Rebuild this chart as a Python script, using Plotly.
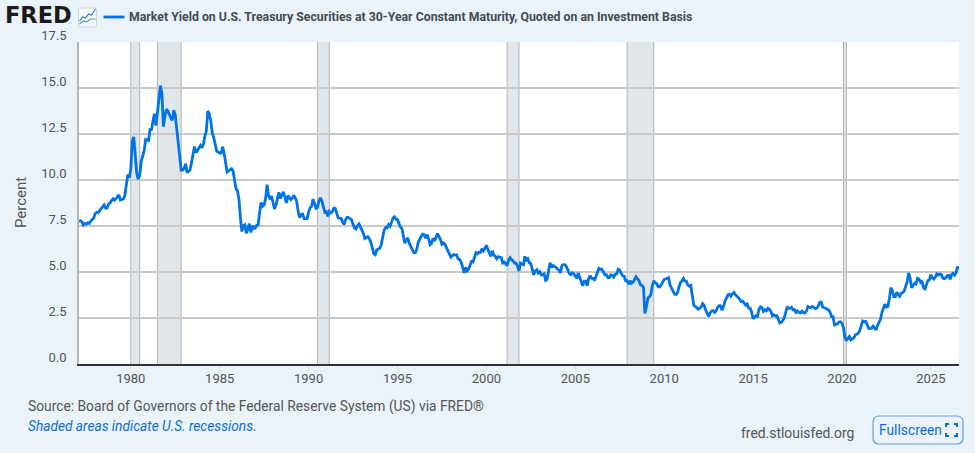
import pandas as pd
import plotly.graph_objects as go

# monthly yields, one list per stretch of years
y1977_1979 = [7.75, 7.78, 7.73, 7.55, 7.64, 7.60, 7.68, 7.64, 7.77, 7.85, 7.94,
              8.18, 8.25, 8.23, 8.34, 8.43, 8.50, 8.65, 8.47, 8.47, 8.69, 8.75, 8.88,
              8.98, 8.90, 9.02, 9.08, 9.19, 8.92, 8.93, 8.98, 9.17, 9.85, 10.30, 10.12]
y1980_1984 = [10.60, 12.13, 12.34, 11.40, 10.36, 10.05, 10.24, 11.00, 11.34, 11.59, 12.20, 12.15,
              12.14, 12.80, 12.69, 13.20, 13.60, 12.96, 13.59, 14.17, 15.13, 14.70, 12.90, 13.45,
              13.85, 13.75, 13.53, 13.37, 13.24, 13.80, 13.55, 12.77, 12.07, 11.17, 10.54, 10.54,
              10.63, 10.88, 10.40, 10.48, 10.53, 10.93, 11.50, 11.82, 11.50, 11.58, 11.75, 11.88,
              11.75, 11.95, 12.38, 12.65, 13.75, 13.60, 13.21, 12.54, 12.29, 11.98, 11.56, 11.52]
y1985_1989 = [11.45, 11.47, 11.81, 11.47, 11.05, 10.44, 10.50, 10.56, 10.61, 10.50, 10.06, 9.54,
              9.40, 8.93, 7.96, 7.20, 7.52, 7.57, 7.10, 7.40, 7.62, 7.15, 7.52, 7.37,
              7.39, 7.54, 7.55, 8.25, 8.78, 8.57, 8.64, 8.97, 9.75, 9.15, 8.95, 9.12,
              8.83, 8.43, 8.63, 8.95, 9.33, 9.00, 9.14, 9.36, 9.06, 8.75, 9.15, 9.01,
              8.93, 9.01, 9.17, 9.03, 8.83, 8.27, 7.95, 8.12, 8.15, 7.90, 7.90, 7.90]
y1990_1994 = [8.26, 8.50, 8.56, 8.95, 8.73, 8.46, 8.50, 8.86, 9.03, 8.86, 8.54, 8.24,
              8.27, 8.03, 8.29, 8.21, 8.27, 8.47, 8.45, 8.14, 7.95, 7.93, 7.92, 7.70,
              7.58, 7.85, 7.97, 7.96, 7.89, 7.84, 7.60, 7.39, 7.34, 7.53, 7.61, 7.44,
              7.34, 7.09, 6.82, 6.85, 6.92, 6.81, 6.63, 6.32, 6.00, 5.94, 6.21, 6.25,
              6.29, 6.49, 6.91, 7.27, 7.41, 7.40, 7.58, 7.49, 7.71, 7.94, 8.00, 7.87]
y1995_1999 = [7.85, 7.61, 7.45, 7.36, 6.95, 6.57, 6.72, 6.86, 6.55, 6.37, 6.26, 6.06,
              6.05, 6.24, 6.60, 6.79, 6.93, 7.06, 7.03, 6.84, 7.03, 6.81, 6.48, 6.55,
              6.83, 6.69, 6.93, 7.09, 6.94, 6.77, 6.51, 6.58, 6.50, 6.33, 6.11, 5.99,
              5.81, 5.89, 5.95, 5.92, 5.93, 5.70, 5.68, 5.54, 5.20, 4.95, 5.25, 5.06,
              5.16, 5.37, 5.58, 5.55, 5.81, 6.04, 5.98, 6.07, 6.07, 6.26, 6.15, 6.35]
y2000_2004 = [6.45, 6.23, 6.05, 5.85, 6.15, 5.93, 5.85, 5.72, 5.83, 5.80, 5.78, 5.49,
              5.54, 5.45, 5.34, 5.65, 5.78, 5.67, 5.61, 5.48, 5.48, 5.32, 5.05, 5.48,
              5.45, 5.40, 5.85, 5.65, 5.72, 5.50, 5.45, 5.15, 4.85, 5.05, 5.12, 4.95,
              5.02, 4.85, 4.85, 4.90, 4.55, 4.60, 5.05, 5.50, 5.25, 5.35, 5.30, 5.25,
              5.15, 5.10, 4.95, 5.35, 5.40, 5.40, 5.30, 5.10, 4.90, 4.85, 4.95, 4.90]
y2005_2009 = [4.75, 4.65, 4.95, 4.70, 4.55, 4.25, 4.50, 4.50, 4.25, 4.65, 4.80, 4.65,
              4.65, 4.55, 4.75, 5.05, 5.20, 5.15, 5.15, 5.00, 4.85, 4.85, 4.70, 4.70,
              4.85, 4.82, 4.72, 4.87, 4.90, 5.15, 5.11, 4.93, 4.79, 4.77, 4.52, 4.53,
              4.33, 4.52, 4.39, 4.44, 4.60, 4.74, 4.62, 4.53, 4.30, 4.27, 4.17, 2.75,
              3.13, 3.59, 3.64, 3.76, 4.23, 4.52, 4.41, 4.37, 4.19, 4.19, 4.31, 4.49]
y2010_2014 = [4.60, 4.62, 4.64, 4.69, 4.29, 4.13, 3.99, 3.80, 3.77, 3.87, 4.19, 4.42,
              4.52, 4.65, 4.51, 4.50, 4.29, 4.23, 4.27, 3.65, 3.18, 3.13, 3.02, 2.98,
              3.03, 3.11, 3.28, 3.18, 2.93, 2.70, 2.59, 2.77, 2.88, 2.90, 2.80, 2.88,
              3.08, 3.17, 3.16, 2.93, 3.11, 3.40, 3.61, 3.76, 3.79, 3.68, 3.80, 3.89,
              3.77, 3.66, 3.62, 3.52, 3.39, 3.42, 3.33, 3.20, 3.26, 3.04, 3.04, 2.83]
y2015_2019 = [2.46, 2.57, 2.63, 2.59, 2.96, 3.11, 3.07, 2.86, 2.95, 2.89, 3.03, 2.97,
              2.86, 2.62, 2.68, 2.62, 2.63, 2.45, 2.23, 2.26, 2.35, 2.50, 2.86, 3.11,
              3.02, 3.03, 3.08, 2.94, 2.96, 2.80, 2.88, 2.80, 2.78, 2.88, 2.80, 2.77,
              2.88, 3.13, 3.09, 3.07, 3.13, 3.05, 3.01, 3.04, 3.15, 3.34, 3.36, 3.10,
              3.04, 3.02, 2.98, 2.94, 2.82, 2.57, 2.57, 2.12, 2.16, 2.19, 2.28, 2.30]
y2020_2026 = [2.22, 1.97, 1.46, 1.27, 1.38, 1.49, 1.31, 1.36, 1.42, 1.57, 1.62, 1.67,
              1.82, 2.14, 2.34, 2.30, 2.32, 2.16, 1.94, 1.92, 1.94, 2.06, 1.94, 1.85,
              2.10, 2.25, 2.41, 2.81, 3.07, 3.25, 3.10, 3.13, 3.56, 4.15, 4.00, 3.66,
              3.66, 3.90, 3.77, 3.68, 3.86, 3.87, 3.96, 4.28, 4.47, 4.95, 4.66, 4.14,
              4.26, 4.38, 4.36, 4.66, 4.62, 4.44, 4.52, 4.15, 4.08, 4.38, 4.54, 4.58,
              4.85, 4.68, 4.62, 4.71, 4.90, 4.84, 4.89, 4.87, 4.68, 4.64, 4.68, 4.80,
              4.82, 4.60, 4.85, 4.93, 4.83, 4.95, 5.29, 5.15]

yields = (y1977_1979 + y1980_1984 + y1985_1989 + y1990_1994 + y1995_1999
          + y2000_2004 + y2005_2009 + y2010_2014 + y2015_2019 + y2020_2026)
dates = pd.date_range("1977-02-01", periods=len(yields), freq="MS")

recession_start = ["1980-01-01", "1981-07-01", "1990-07-01", "2001-03-01", "2007-12-01", "2020-02-01"]
recession_end = ["1980-07-01", "1982-11-01", "1991-03-01", "2001-11-01", "2009-06-01", "2020-04-01"]

y_ticks = [0, 2.5, 5, 7.5, 10, 12.5, 15, 17.5]
x_ticks = ["1980", "1985", "1990", "1995", "2000", "2005", "2010", "2015", "2020", "2025"]

title = "Market Yield on U.S. Treasury Securities at 30-Year Constant Maturity, Quoted on an Investment Basis"
source = "Source: Board of Governors of the Federal Reserve System (US) via FRED®"
note = "Shaded areas indicate U.S. recessions."

W, H = 975, 453
L, R, T, B = 78.5, 16, 42, 89
BG = "#eaf2fa"
BLUE = "#0073e6"
LINK = "#0b6fd3"
TEXT = "#555555"


# header and footer furniture is placed in page pixels
def px(x):
    return (x - L) / (W - L - R)


def py(y):
    return 1 - (y - T) / (H - T - B)


def label(x, y, text, size=14, color=TEXT, anchor="left", **kw):
    return dict(xref="paper", yref="paper", x=px(x), y=py(y), text=text, showarrow=False,
                xanchor=anchor, yanchor="middle", borderpad=0,
                font=dict(family="Roboto", size=size, color=color), **kw)


def path(points, color, width=1.5):
    d = "M " + " L ".join(f"{px(a):.5f} {py(b):.5f}" for a, b in points)
    return dict(type="path", xref="paper", yref="paper", path=d,
                line=dict(color=color, width=width), layer="above")


def rounded(x0, y0, x1, y1, r):
    p = lambda a, b: f"{px(a):.5f} {py(b):.5f}"
    return (f"M {p(x0 + r, y0)} L {p(x1 - r, y0)} Q {p(x1, y0)} {p(x1, y0 + r)} "
            f"L {p(x1, y1 - r)} Q {p(x1, y1)} {p(x1 - r, y1)} "
            f"L {p(x0 + r, y1)} Q {p(x0, y1)} {p(x0, y1 - r)} "
            f"L {p(x0, y0 + r)} Q {p(x0, y0)} {p(x0 + r, y0)} Z")


fig = go.Figure(go.Scatter(x=dates, y=yields, mode="lines", name=title,
                           line=dict(color=BLUE, width=2.8), showlegend=False))

shapes = []
for start, end in zip(recession_start, recession_end):
    shapes.append(dict(type="rect", xref="x", yref="paper", x0=start, x1=end, y0=0, y1=1,
                       fillcolor="#e1e6eb", line=dict(width=0), layer="below"))
    for edge in (start, end):
        shapes.append(dict(type="line", xref="x", yref="paper", x0=edge, x1=edge, y0=0, y1=1,
                           line=dict(color="#b0b3b6", width=1), layer="below"))

# legend key
shapes.append(dict(type="line", xref="paper", yref="paper", x0=px(103), x1=px(124), y0=py(17), y1=py(17),
                   line=dict(color=BLUE, width=2.8)))

# FRED graph icon
shapes.append(dict(type="path", xref="paper", yref="paper", path=rounded(78, 8, 96, 27, 2),
                   fillcolor="#f4f7fa", line=dict(color="#cfd4d8", width=1)))
shapes.append(path([(79, 21), (82, 17), (85, 18), (88, 14), (91, 15), (95, 9)], "#2f80d8", 1.2))
shapes.append(path([(79, 24), (83, 21), (86, 22), (90, 19), (95, 19)], "#4fae9c", 1.2))

# fullscreen button
shapes.append(dict(type="path", xref="paper", yref="paper", path=rounded(873, 416, 963, 444, 6),
                   fillcolor=BG, line=dict(color="#5c9fe3", width=1.2)))
for cx, cy, dx, dy in [(946, 424, 1, 1), (957, 424, -1, 1), (946, 436, 1, -1), (957, 436, -1, -1)]:
    shapes.append(path([(cx + 3 * dx, cy), (cx, cy), (cx, cy + 3 * dy)], LINK, 2))

annotations = [
    dict(xref="paper", yref="paper", x=px(3), y=py(15.5), text="<b>FRED</b>", showarrow=False,
         xanchor="left", yanchor="middle", borderpad=0,
         font=dict(family="DejaVu Sans", size=22.5, color="#1a1a1a")),
    label(128, 17, "<b>" + title + "</b>", size=12.3, color="#444b52"),
    label(26.5, 406, source, size=13.8),
    label(26.5, 426, "<i>" + note + "</i>", size=13.7, color=LINK),
    label(740, 433, "fred.stlouisfed.org", size=13.9),
    label(877.5, 430, "Fullscreen", size=13.8, color=LINK),
    label(20, 202.5, "Percent", size=15, anchor="center", textangle=-90),
]

fig.update_layout(
    width=W, height=H,
    margin=dict(l=L, r=R, t=T, b=B),
    paper_bgcolor=BG, plot_bgcolor="white",
    font=dict(family="Roboto", size=13, color=TEXT),
    shapes=shapes, annotations=annotations,
    hovermode="x",
)
fig.update_xaxes(
    range=["1977-02-01", "2026-08-01"],
    tickmode="array", tickvals=[t + "-01-01" for t in x_ticks], ticktext=x_ticks,
    showgrid=False, zeroline=False, showline=True, linecolor="#333333", linewidth=2,
    ticks="outside", ticklen=4, tickcolor="#d5dbe0", tickwidth=1, ticklabelstandoff=-3,
)
fig.update_yaxes(
    range=[0, 17.5],
    tickmode="array", tickvals=y_ticks, ticktext=[f"{t:.1f}" for t in y_ticks],
    showgrid=True, gridcolor="#c9c9c9", gridwidth=1.5, zeroline=False,
    showline=True, linecolor="#b4b4b4", linewidth=1.5,
    ticks="outside", ticklen=8, tickcolor="rgba(0,0,0,0)", ticklabelshift=-7,
)

fig.write_html("out.html", config={"displayModeBar": False},
               post_script=f"document.body.style.margin='0';document.body.style.background='{BG}';")
